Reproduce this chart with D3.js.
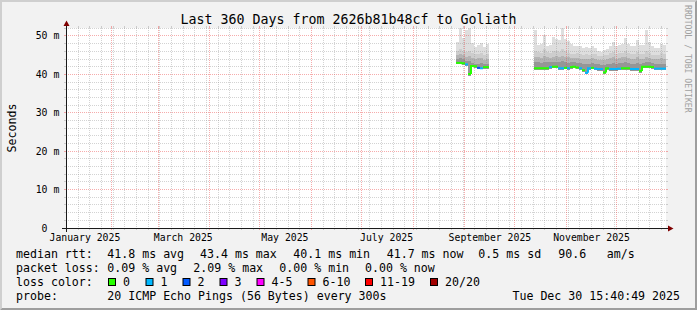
<!DOCTYPE html>
<html><head><meta charset="utf-8">
<script src="https://cdn.jsdelivr.net/npm/d3@7"></script>
<style>
html,body{margin:0;padding:0;background:#f2f2f2;}
svg{display:block;font-family:"DejaVu Sans Mono",monospace;}
</style>
</head><body>
<svg id="c" width="697" height="310"></svg>
<script>
// ---------- data ----------
const chartStart = "2025-01-04T15:40:49Z";
const chartEnd   = "2025-12-30T15:40:49Z";
const yMax = 52.08;                 // ms
const yMajorStep = 10, yMinorStep = 2;
const xLabelMonths = ["2025-01-01","2025-03-01","2025-05-01","2025-07-01","2025-09-01","2025-11-01"];
const binHours = 43.2;

const seg1Start = "2025-08-26T15:40:49Z";
const seg1Hi  = [48.5, 52.0, 49.4, 51.6, 52.0, 48.2, 47.2, 47.6, 48.2, 47.2, 47.9];
const seg1U1  = [46.2, 46.5, 46.0, 45.8, 46.0, 45.6, 45.2, 45.4, 45.6, 45.0, 45.3];
const seg1U2  = [45.0, 45.3, 45.0, 44.6, 44.8, 44.2, 44.0, 44.2, 44.3, 43.8, 44.0];
const seg1U3  = [44.0, 44.2, 43.9, 43.6, 43.4, 43.0, 42.8, 42.8, 43.0, 42.7, 42.8];
const seg1Lo  = [42.6, 42.6, 42.5, 42.2, 39.6, 41.8, 41.7, 41.3, 41.3, 41.5, 41.5];
const seg1Med = [43.0, 43.0, 42.9, 42.6, 40.1, 42.2, 42.1, 41.7, 41.6, 41.9, 41.9];
const seg1Loss= [0, 0, 0, 1, 0, 0, 0, 2, 1, 0, 0];

const seg2Start = "2025-10-12T10:52:49Z";
const seg2Hi  = [51.6, 47.7, 47.9, 50.3, 47.4, 47.6, 49.7, 49.3, 49.0, 52.0, 49.3, 48.6, 48.0, 47.3, 47.5, 47.3, 47.0, 47.2, 46.9, 47.3, 47.0, 46.2,
                 45.8, 46.3, 46.5, 47.3, 48.4, 47.5, 47.7, 48.0, 49.5, 48.0, 47.3, 47.5, 49.0, 47.7, 47.6, 51.6, 48.5, 47.3, 47.0, 47.0, 48.0, 47.7];
const seg2U1  = [46.2, 45.8, 45.6, 46.5, 45.8, 45.5, 46.0, 46.2, 45.9, 46.5, 46.0, 45.6, 45.4, 45.3, 45.5, 45.2, 45.0, 45.3, 45.1, 45.4, 45.2, 44.9,
                 44.8, 45.0, 45.1, 45.5, 45.8, 45.3, 45.6, 45.7, 46.0, 45.5, 45.2, 45.3, 45.8, 45.4, 45.3, 46.2, 45.6, 45.1, 45.0, 45.0, 45.5, 45.3];
const seg2U2  = [44.6, 44.5, 44.3, 44.8, 44.5, 44.3, 44.6, 44.7, 44.5, 44.9, 44.6, 44.4, 44.3, 44.2, 44.3, 44.1, 43.9, 44.0, 44.0, 44.2, 44.0, 43.8,
                 43.7, 43.8, 44.0, 44.2, 44.4, 44.1, 44.3, 44.4, 44.5, 44.2, 44.0, 44.1, 44.4, 44.1, 44.0, 44.6, 44.3, 44.0, 43.9, 43.9, 44.2, 44.1];
const seg2U3  = [43.2, 43.1, 43.0, 43.3, 43.1, 43.1, 43.3, 43.3, 43.1, 43.4, 43.2, 43.0, 43.1, 43.1, 43.0, 42.9, 42.6, 42.6, 42.8, 42.9, 42.7, 42.6,
                 42.5, 42.4, 42.8, 42.8, 42.9, 42.8, 42.9, 43.0, 43.1, 42.9, 42.7, 42.8, 43.0, 42.6, 43.0, 43.3, 43.1, 43.0, 42.7, 42.7, 42.8, 42.8];
const seg2Lo  = [41.2, 41.2, 41.2, 41.2, 41.2, 41.5, 41.6, 41.6, 41.2, 41.2, 41.3, 41.2, 41.5, 41.6, 41.4, 41.2, 40.6, 40.0, 41.2, 41.3, 41.1, 41.0,
                 41.0, 40.1, 41.2, 41.0, 41.0, 41.0, 41.1, 41.2, 41.2, 41.2, 41.0, 41.0, 41.0, 40.4, 41.6, 41.6, 41.6, 41.5, 41.1, 41.1, 41.1, 41.1];
const seg2Med = [41.6, 41.6, 41.6, 41.6, 41.6, 41.9, 42.0, 42.0, 41.6, 41.6, 41.7, 41.6, 41.9, 42.0, 41.8, 41.6, 41.1, 40.4, 41.6, 41.7, 41.5, 41.4,
                 41.4, 40.5, 41.6, 41.4, 41.4, 41.4, 41.5, 41.6, 41.6, 41.6, 41.4, 41.4, 41.4, 40.9, 42.0, 42.0, 42.0, 41.9, 41.5, 41.5, 41.5, 41.5];
const seg2Loss= [0, 0, 0, 0, 0, 1, 0, 0, 1, 1, 0, 1, 0, 0, 0, 1, 0, 1, 1, 0, 1, 1,
                 1, 0, 0, 1, 1, 1, 1, 0, 0, 0, 1, 1, 1, 0, 0, 0, 0, 0, 1, 1, 1, 1];

const lossLabels = ["0","1","2","3","4-5","6-10","11-19","20/20"];
const lossColors = ["#26ff00","#00b8ff","#0059ff","#7e00ff","#ff00ff","#ff5500","#ff0000","#a10000"];
const lossMaxCount = [0,1,2,3,5,10,19,20];

const titleText = "Last 360 Days from 2626b81b48cf to Goliath";
const legendRtt  = [["median rtt:",16],["41.8 ms avg",107.3],["43.4 ms max",200],["40.1 ms min",293.3],["41.7 ms now",386.7],["0.5 ms sd",478.3],["90.6",558.3],["am/s",606.7]];
const legendLoss = [["packet loss:",16],["0.09 % avg",107.3],["2.09 % max",193.3],["0.00 % min",279.3],["0.00 % now",365]];
const lossBoxX = [108,145.5,182.5,219.5,256.5,307.5,365,430];
const probeText = "20 ICMP Echo Pings (56 Bytes) every 300s";
const dateText = "Tue Dec 30 15:40:49 2025";

// ---------- layout ----------
const W = 697, H = 310;
const X0 = 66, X1 = 666, Y0 = 228, Y1 = 28;
const svg = d3.select("#c");
const x = d3.scaleUtc().domain([new Date(chartStart), new Date(chartEnd)]).range([X0, X1]);
const y = d3.scaleLinear().domain([0, yMax]).range([Y0, Y1]);
const px = v => Math.floor(v) + 0.5;

// background + shading
svg.append("rect").attr("width", W).attr("height", H).attr("fill", "#f2f2f2");
svg.append("polygon").attr("points", `0,0 ${W},0 ${W-2},2 2,2 2,${H-2} 0,${H}`).attr("fill", "#cfcfcf");
svg.append("polygon").attr("points", `${W},0 ${W},${H} 0,${H} 2,${H-2} ${W-2},${H-2} ${W-2},2`).attr("fill", "#9e9e9e");
svg.append("rect").attr("x", X0).attr("y", Y1).attr("width", X1 - X0).attr("height", Y0 - Y1).attr("fill", "#ffffff");

// ---------- smoke ----------
function buildSeg(start, hi, u1, u2, u3, lo, med, loss) {
  const t0 = new Date(start).getTime();
  return hi.map((h, i) => ({
    t: new Date(t0 + i * binHours * 3600e3),
    t2: new Date(t0 + (i + 1) * binHours * 3600e3),
    hi: h, u1: u1[i], u2: u2[i], u3: u3[i], lo: lo[i], med: med[i], loss: loss[i]
  }));
}
const segs = [
  buildSeg(seg1Start, seg1Hi, seg1U1, seg1U2, seg1U3, seg1Lo, seg1Med, seg1Loss),
  buildSeg(seg2Start, seg2Hi, seg2U1, seg2U2, seg2U3, seg2Lo, seg2Med, seg2Loss)
];
const bands = [["hi", "#dedede"], ["u1", "#cdcdcd"], ["u2", "#b4b4b4"], ["u3", "#969696"]];
const smokeG = svg.append("g").attr("shape-rendering", "crispEdges");
segs.forEach(seg => {
  bands.forEach(([key, col]) => {
    smokeG.selectAll(null).data(seg).enter().append("rect")
      .attr("x", d => x(d.t)).attr("width", d => x(d.t2) - x(d.t))
      .attr("y", d => y(d[key])).attr("height", d => y(d.lo) - y(d[key]))
      .attr("fill", col);
  });
});

// ---------- grid ----------
const gridMinor = "rgba(150,150,150,0.42)";
const gridMajor = "rgba(235,70,70,0.45)";
const gridG = svg.append("g").attr("shape-rendering", "crispEdges").attr("stroke-width", 1);
function hLine(v, col) {
  const yy = px(y(v));
  gridG.append("line").attr("x1", X0 - 2).attr("x2", X0).attr("y1", yy).attr("y2", yy).attr("stroke", col);
  gridG.append("line").attr("x1", X1).attr("x2", X1 + 2).attr("y1", yy).attr("y2", yy).attr("stroke", col);
  gridG.append("line").attr("x1", X0).attr("x2", X1).attr("y1", yy).attr("y2", yy).attr("stroke", col).attr("stroke-dasharray", "1,1");
}
function vLine(dt, col) {
  const xx = px(x(dt));
  gridG.append("line").attr("x1", xx).attr("x2", xx).attr("y1", Y1 - 2).attr("y2", Y1).attr("stroke", col);
  gridG.append("line").attr("x1", xx).attr("x2", xx).attr("y1", Y0).attr("y2", Y0 + 2).attr("stroke", col);
  gridG.append("line").attr("x1", xx).attr("x2", xx).attr("y1", Y1).attr("y2", Y0).attr("stroke", col).attr("stroke-dasharray", "1,1");
}
const yMinor = d3.range(0, yMax, yMinorStep).filter(v => v % yMajorStep !== 0);
const yMajor = d3.range(yMajorStep, yMax, yMajorStep);
yMinor.forEach(v => hLine(v, gridMinor));
const monthLines = d3.utcMonth.range(x.domain()[0], x.domain()[1]);
const monthKeys = new Set(monthLines.map(d => +d));
d3.utcWeek.range(x.domain()[0], x.domain()[1]).filter(d => !monthKeys.has(+d) && x(d) > X0 + 1).forEach(d => vLine(d, gridMinor));
yMajor.forEach(v => hLine(v, gridMajor));
monthLines.forEach(d => vLine(d, gridMajor));

// ---------- median line ----------
const lossIndex = n => lossMaxCount.findIndex(m => n <= m);
const lineG = svg.append("g").attr("fill", "none").attr("stroke-width", 2);
segs.forEach(seg => {
  seg.forEach((d, i) => {
    const c = lossIndex(d.loss);
    const prev = i > 0 ? seg[i - 1] : null;
    let path;
    if (prev && lossIndex(prev.loss) === c) {
      path = `M${x(d.t)},${y(prev.med)}V${y(d.med)}H${x(d.t2)}`;
    } else {
      path = `M${x(d.t)},${y(d.med)}H${x(d.t2)}`;
    }
    lineG.append("path").attr("d", path).attr("stroke", lossColors[c]);
  });
});

// ---------- axes ----------
const axG = svg.append("g").attr("shape-rendering", "crispEdges");
axG.append("line").attr("x1", X0 - 4).attr("x2", X1 + 4).attr("y1", Y0 + 0.5).attr("y2", Y0 + 0.5).attr("stroke", "#1a1a1a");
axG.append("line").attr("x1", X0 + 0.5).attr("x2", X0 + 0.5).attr("y1", Y0 + 4).attr("y2", Y1 - 4).attr("stroke", "#1a1a1a");
svg.append("polygon").attr("points", `${X1+2},${Y0-2.5} ${X1+2},${Y0+3.5} ${X1+7.5},${Y0+0.5}`).attr("fill", "#7f0000");
svg.append("polygon").attr("points", `${X0-2.5},${Y1-2} ${X0+3.5},${Y1-2} ${X0+0.5},${Y1-7.5}`).attr("fill", "#7f0000");

// y tick labels
const tickFont = "9.8px";
d3.range(0, yMax, yMajorStep).forEach(v => {
  const yy = px(y(v)) + 3.5;
  svg.append("text").attr("x", 47.5).attr("y", yy).attr("text-anchor", "end")
    .attr("font-size", tickFont).attr("fill", "#000").text(v);
  if (v !== 0) svg.append("text").attr("x", 53.5).attr("y", yy).attr("font-size", tickFont).attr("fill", "#000").text("m");
});
// x tick labels
const fmt = d3.utcFormat("%B %Y");
xLabelMonths.forEach(s => {
  const d = new Date(s + "T00:00:00Z");
  const lab = new Date(d.getTime() + 15 * 86400e3);
  svg.append("text").attr("x", x(lab)).attr("y", 240.5).attr("text-anchor", "middle")
    .attr("font-size", tickFont).attr("fill", "#000").text(fmt(d));
});

// title & axis label
svg.append("text").attr("x", 348.5).attr("y", 24).attr("text-anchor", "middle")
  .attr("font-size", "13.3px").attr("fill", "#000").text(titleText);
svg.append("text").attr("transform", "translate(15.5,128) rotate(-90)").attr("text-anchor", "middle")
  .attr("font-size", "11.6px").attr("fill", "#000").text("Seconds");
svg.append("text").attr("transform", "translate(684.5,5) rotate(90)").attr("text-anchor", "start")
  .attr("font-size", "8.15px").attr("fill", "#a0a0a0").text("RRDTOOL / TOBI OETIKER");

// legend
const legFont = "11.6px";
const legText = (s, xx, yy, anchor) => svg.append("text").attr("x", xx).attr("y", yy)
  .attr("text-anchor", anchor || "start").attr("font-size", legFont).attr("fill", "#000")
  .style("white-space", "pre").text(s);
legendRtt.forEach(([s, xx]) => legText(s, xx, 258));
legendLoss.forEach(([s, xx]) => legText(s, xx, 272));
legText("loss color:", 16, 285.8);
lossLabels.forEach((lab, i) => {
  svg.append("rect").attr("x", lossBoxX[i] + 0.5).attr("y", 278.5).attr("width", 7).attr("height", 7)
    .attr("fill", lossColors[i]).attr("stroke", "#000").attr("stroke-width", 1);
  legText(lab, lossBoxX[i] + 15, 285.8);
});
legText("probe:", 16, 299.5);
legText(probeText, 107.3, 299.5);
legText(dateText, 680, 299.5, "end");
</script>
</body></html>
